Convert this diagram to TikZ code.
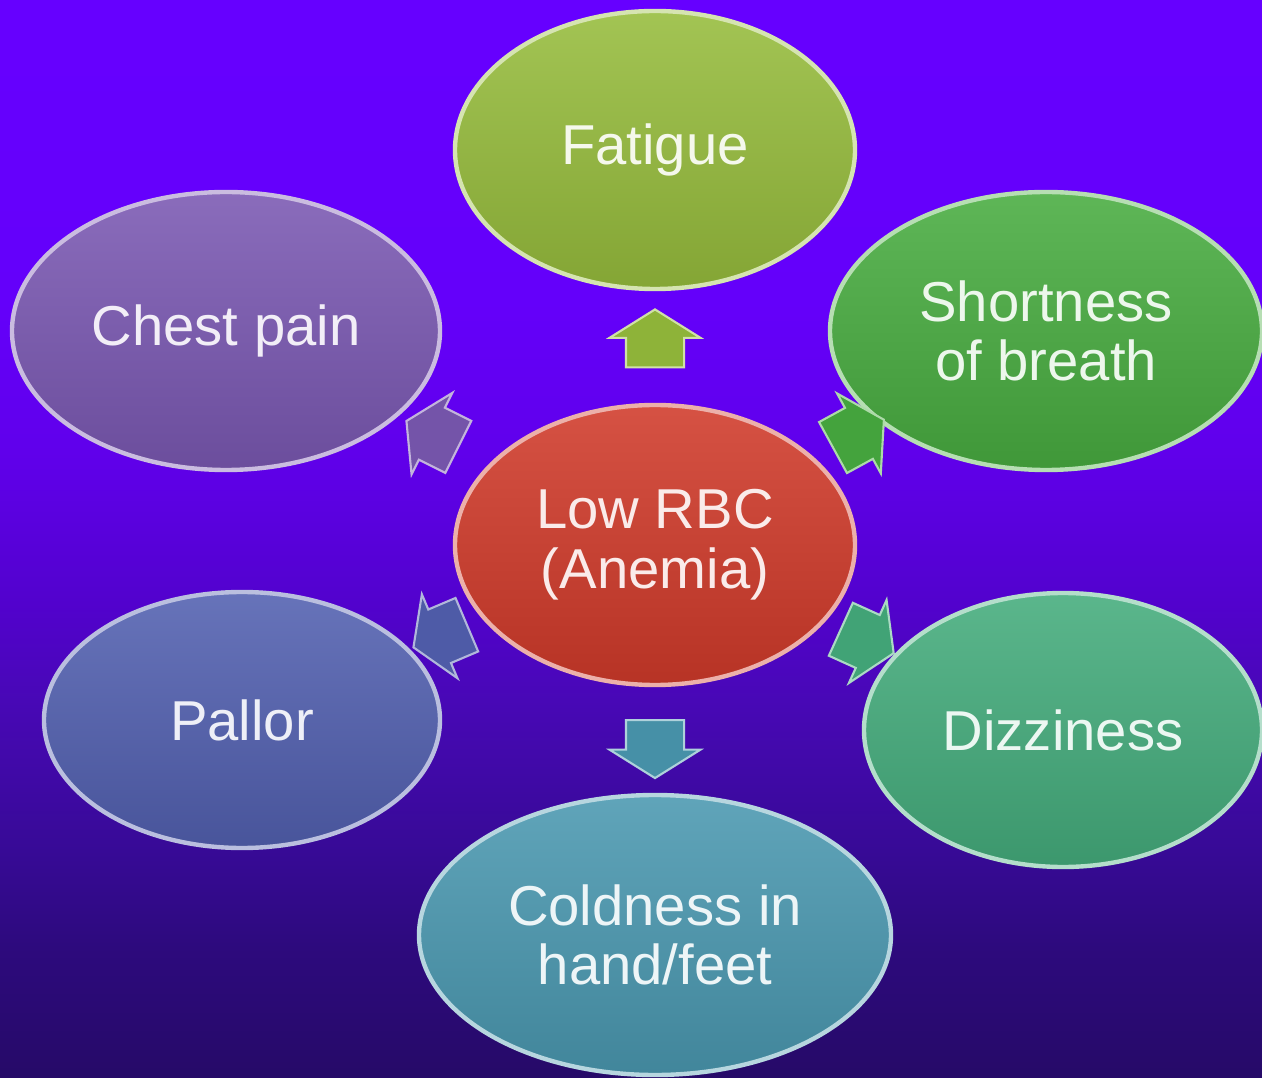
\documentclass[tikz,border=0pt]{standalone}
\usepackage{fontspec}
\setmainfont{Liberation Sans}
\usetikzlibrary{shapes.geometric,shapes.arrows,positioning}

\definecolor{bgtop}{RGB}{102,0,255}
\definecolor{bgbot}{RGB}{38,10,104}
\definecolor{fatC}{RGB}{150,188,60}
\definecolor{chestC}{RGB}{122,88,178}
\definecolor{shortC}{RGB}{72,172,64}
\definecolor{rbcC}{RGB}{208,58,42}
\definecolor{pallorC}{RGB}{82,96,176}
\definecolor{dizzyC}{RGB}{68,172,124}
\definecolor{coldC}{RGB}{74,152,176}

\pgfdeclareverticalshading{bgshade}{100bp}{
  color(0bp)=(bgbot); color(25bp)=(bgbot);
  color(31bp)=(rgb,255:red,45;green,10;blue,125);
  color(35.5bp)=(rgb,255:red,55;green,10;blue,150);
  color(42.5bp)=(rgb,255:red,72;green,8;blue,182);
  color(47bp)=(rgb,255:red,82;green,2;blue,205);
  color(54bp)=(rgb,255:red,96;green,0;blue,235);
  color(61bp)=(rgb,255:red,100;green,0;blue,250);
  color(75bp)=(bgtop); color(100bp)=(bgtop)}

\begin{document}
\begin{tikzpicture}[
    symp/.style={ellipse, inner sep=0pt, line width=2.5pt, align=center,
                 draw=#1!40!white, top color=#1!88!white, bottom color=#1!88!black,
                 text=#1!10!white, font=\fontsize{32}{34}\selectfont},
    arr/.style={single arrow, single arrow head extend=0.33cm,
                single arrow tip angle=116, minimum height=1.16cm,
                inner xsep=0pt, inner ysep=0.56cm,
                sloped, allow upside down, line width=1.2pt,
                fill=#1!95!black, draw=#1!45!white}
  ]

  %% Background
  \shade[shading=bgshade] (-13.1,-10.64) rectangle (12.14,10.9);
  \useasboundingbox (-13.1,-10.64) rectangle (12.14,10.9);

  %% Centre
  \node (rbc) [symp=rbcC, minimum width=8cm, minimum height=5.6cm] at (0,0)
    {Low RBC\\(Anemia)};

  %% Symptoms
  \node (fat)    [symp=fatC,    minimum width=8cm,    minimum height=5.56cm] at (0,7.9)     {Fatigue};
  \node (chest)  [symp=chestC,  minimum width=8.56cm, minimum height=5.56cm] at (-8.58,4.28) {Chest pain};
  \node (short)  [symp=shortC,  minimum width=8.64cm, minimum height=5.56cm] at (7.82,4.28)  {Shortness\\of breath};
  \node (pallor) [symp=pallorC, minimum width=7.92cm, minimum height=5.12cm] at (-8.26,-3.5) {Pallor};
  \node (dizzy)  [symp=dizzyC,  minimum width=7.96cm, minimum height=5.48cm] at (8.16,-3.7)  {Dizziness};
  \node (cold)   [symp=coldC,   minimum width=9.44cm, minimum height=5.6cm]  at (0,-7.8)     {Coldness in\\hand/feet};

  %% Block arrows, centre to each symptom
  \path (rbc.center) -- node (afat)    [arr=fatC]    {} (fat.center);
  \path (rbc.center) -- node (achest)  [arr=chestC]  {} (chest.center);
  \path (rbc.center) -- node (ashort)  [arr=shortC]  {} (short.center);
  \path (rbc.center) -- node (apallor) [arr=pallorC] {} (pallor.center);
  \path (rbc.center) -- node (adizzy)  [arr=dizzyC]  {} (dizzy.center);
  \path (rbc.center) -- node (acold)   [arr=coldC]   {} (cold.center);

\end{tikzpicture}
\end{document}
